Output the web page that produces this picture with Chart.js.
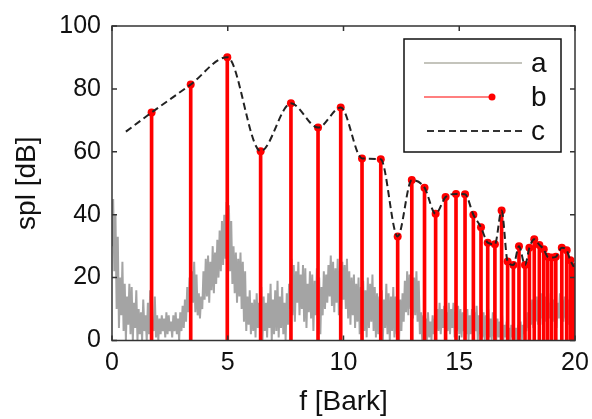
<!DOCTYPE html>
<html>
<head>
<meta charset="utf-8">
<script src="https://cdn.jsdelivr.net/npm/chart.js@4"></script>
<style>
  html, body { margin: 0; padding: 0; background: #fff; }
</style>
</head>
<body>
<canvas id="myChart" width="592" height="419"></canvas>
<script>
const xTicks = [0, 5, 10, 15, 20];
const yTicks = [0, 20, 40, 60, 80, 100];

// a : grey spectrum, upper and lower values every 0.1 Bark (0 .. 20)
const aStep = 0.1;
const aTop = [
  45, 40, 33, 20, 25, 18,
  14, 18, 17, 12, 16,   10, 9, 13, 8, 12,   16, 6, 14, 8, 7,   8, 7, 9, 8, 6,
  8, 9, 7, 9, 11,   13, 17, 20, 22, 25,   21, 15, 14, 22, 26,   27, 25, 30, 28, 32,
  35, 38, 40, 44, 43,   38, 30, 28, 26, 28,   25, 22, 14, 16, 12,   13, 15, 12, 17, 14,
  12, 15, 18, 13, 16,   19, 14, 17, 12, 15,   18, 26, 24, 22, 25,   21, 24, 23, 18, 22,
  21, 19, 23, 20, 17,   22, 21, 24, 27, 25,   23, 26, 22, 25, 24,   26, 22, 20, 21, 18,
  20, 17, 19, 16, 20,   18, 21, 17, 15, 14,   16, 13, 18, 15, 14,   17, 14, 16, 13, 15,
  19, 22, 21, 23, 20,   22, 19, 9, 8, 7,   9, 6, 8, 7, 10,   12, 10, 11, 9, 12,
  10, 12, 9, 11, 10,   9, 11, 10, 8, 10,   9, 11, 8, 10, 9,   8, 10, 7, 9, 8,
  7, 6, 8, 5, 6,   4, 5, 6, 4, 5,   6, 5, 7, 9, 11,   13, 12, 14, 12, 15,
  13, 14, 12, 15, 13,   14, 12, 15, 13, 14,   15, 13, 14, 12, 13
];
const aLow = [
  30, 22, 10, 4, 8, 3,
  0, 5, 2, 0, 4,   0, 2, 0, 3, 0,   2, 0, 3, 1, 0,   2, 3, 1, 2, 3,
  1, 3, 2, 0, 3,   4, 6, 9, 10, 12,   9, 8, 7, 10, 13,   14, 12, 16, 15, 18,
  20, 22, 24, 26, 25,   22, 18, 15, 12, 14,   10, 6, 3, 5, 2,   3, 1, 4, 2, 0,
  3, 1, 4, 0, 2,   3, 1, 4, 2, 0,   5, 10, 8, 6, 12,   8, 10, 6, 4, 9,
  7, 3, 8, 5, 2,   8, 10, 12, 14, 11,   9, 12, 8, 10, 13,   10, 7, 5, 8, 4,
  6, 2, 5, 3, 1,   4, 6, 3, 1, 2,   3, 0, 4, 2, 0,   3, 1, 2, 0, 3,
  6, 9, 8, 10, 7,   8, 6, 2, 0, 1,   0, 1, 0, 2, 3,   3, 2, 4, 1, 3,
  2, 4, 1, 3, 2,   1, 3, 2, 0, 2,   1, 3, 0, 2, 1,   0, 2, 1, 0, 1,
  0, 1, 0, 0, 1,   0, 0, 1, 0, 0,   1, 0, 2, 3, 4,   5, 4, 6, 5, 7,
  5, 6, 4, 7, 5,   6, 4, 7, 5, 6,   7, 5, 6, 4, 5
];

// b : red stems (harmonic peaks)
const bX = [1.71, 3.40, 4.98, 6.42, 7.73, 8.90, 9.88, 10.80, 11.61, 12.34, 12.95, 13.50,
  13.98, 14.41, 14.86, 15.25, 15.61, 15.94, 16.23, 16.54, 16.83, 17.09, 17.34, 17.58,
  17.84, 18.03, 18.24, 18.46, 18.65, 18.82, 18.99, 19.17, 19.43, 19.64, 19.80, 19.95];
const bY = [72.5, 81.4, 90.1, 60.2, 75.4, 67.7, 74.1, 57.9, 57.6, 33.1, 51.0, 48.6,
  40.3, 45.6, 46.6, 46.5, 40.0, 36.0, 31.1, 30.6, 41.3, 25.1, 24.0, 30.0,
  24.0, 29.5, 32.2, 30.4, 29.0, 26.6, 26.4, 26.6, 29.5, 28.7, 25.5, 23.4];

// c : dashed envelope
const cX = [0.6, 1.71, 3.40, 4.98, 6.42, 7.73, 8.90, 9.88, 10.80, 11.61, 12.34, 12.95, 13.50,
  13.98, 14.41, 14.86, 15.25, 15.61, 15.94, 16.23, 16.54, 16.83, 17.09, 17.34, 17.58,
  17.84, 18.03, 18.24, 18.46, 18.65, 18.82, 18.99, 19.17, 19.43, 19.64, 19.80, 19.95];
const cY = [66.4, 72.5, 81.4, 90.1, 60.2, 75.4, 67.7, 74.1, 57.9, 57.6, 33.1, 51.0, 48.6,
  40.3, 45.6, 46.6, 46.5, 40.0, 36.0, 31.1, 30.6, 41.3, 25.1, 24.0, 30.0,
  24.0, 29.5, 32.2, 30.4, 29.0, 26.6, 26.4, 26.6, 29.5, 28.7, 25.5, 23.4];

const legendLabels = ['a', 'b', 'c'];

const FONT = '"Liberation Sans", Arial, Helvetica, sans-serif';
const GREY = '#a4a4a4';
const RED = '#ff0000';

// -- ** build datasets ** -- \\
var aData = [];
for (let i = 0; i < aTop.length; i++) {
  aData.push({ x: i * aStep, y: aLow[i] });
  aData.push({ x: i * aStep + aStep / 2, y: aTop[i] });
}
const bData = bX.map((x, i) => ({ x: x, y: bY[i] }));
const cData = cX.map((x, i) => ({ x: x, y: cY[i] }));

// -- ** box, inward ticks and legend ** -- \\
const framePlugin = {
  id: 'frame',
  afterDraw(chart) {
    const ctx = chart.ctx;
    const ca = chart.chartArea;
    const sx = chart.scales.x;
    const sy = chart.scales.y;
    ctx.save();
    ctx.strokeStyle = '#333';
    ctx.lineWidth = 1.5;
    ctx.strokeRect(ca.left, ca.top, ca.right - ca.left, ca.bottom - ca.top);
    ctx.beginPath();
    xTicks.forEach(v => {
      const px = sx.getPixelForValue(v);
      ctx.moveTo(px, ca.bottom); ctx.lineTo(px, ca.bottom - 5);
      ctx.moveTo(px, ca.top); ctx.lineTo(px, ca.top + 5);
    });
    yTicks.forEach(v => {
      const py = sy.getPixelForValue(v);
      ctx.moveTo(ca.left, py); ctx.lineTo(ca.left + 5, py);
      ctx.moveTo(ca.right, py); ctx.lineTo(ca.right - 5, py);
    });
    ctx.stroke();

    // legend
    const lx = 404, ly = 39, lw = 157, lh = 113;
    ctx.fillStyle = '#fff';
    ctx.fillRect(lx, ly, lw, lh);
    ctx.strokeStyle = '#111';
    ctx.lineWidth = 1.5;
    ctx.strokeRect(lx, ly, lw, lh);
    const rows = [63, 97, 131];
    ctx.setLineDash([]);
    ctx.strokeStyle = '#c4c4bc';
    ctx.lineWidth = 2;
    ctx.beginPath(); ctx.moveTo(424, rows[0]); ctx.lineTo(522, rows[0]); ctx.stroke();
    ctx.strokeStyle = RED;
    ctx.lineWidth = 1.2;
    ctx.beginPath(); ctx.moveTo(424, rows[1]); ctx.lineTo(492, rows[1]); ctx.stroke();
    ctx.fillStyle = RED;
    ctx.beginPath(); ctx.arc(492, rows[1], 3.5, 0, Math.PI * 2); ctx.fill();
    ctx.strokeStyle = '#333';
    ctx.lineWidth = 2;
    ctx.setLineDash([7, 4]);
    ctx.beginPath(); ctx.moveTo(427, rows[2]); ctx.lineTo(522, rows[2]); ctx.stroke();
    ctx.setLineDash([]);
    ctx.fillStyle = '#111';
    ctx.font = '28px ' + FONT;
    ctx.textBaseline = 'middle';
    ctx.textAlign = 'left';
    legendLabels.forEach((t, i) => ctx.fillText(t, 531, rows[i] + 1));
    ctx.restore();
  }
};

const config = {
  type: 'scatter',
  data: {
    datasets: [
      {
        type: 'line', label: 'c', data: cData, order: 1,
        borderColor: '#222', borderWidth: 2, borderDash: [7, 4],
        pointRadius: 0, cubicInterpolationMode: 'monotone', fill: false
      },
      {
        type: 'scatter', label: 'b', data: bData, order: 2,
        backgroundColor: RED, borderColor: RED, pointRadius: 4, borderWidth: 0
      },
      {
        type: 'bar', label: 'b', data: bData, order: 3,
        backgroundColor: RED, barThickness: 3, grouped: false
      },
      {
        type: 'line', label: 'a', data: aData, order: 4,
        borderColor: GREY, borderWidth: 2, pointRadius: 0, fill: false, tension: 0
      }
    ]
  },
  options: {
    responsive: false,
    animation: false,
    events: [],
    layout: { padding: { top: 23, right: 17, left: 0, bottom: 0 } },
    plugins: { legend: { display: false }, tooltip: { enabled: false } },
    scales: {
      x: {
        type: 'linear', min: 0, max: 20, offset: false,
        afterFit: (scale) => {
          scale.height = 78.5;
          scale.paddingLeft = 0;
          scale.paddingRight = 0;
        },
        afterBuildTicks: (scale) => { scale.ticks = xTicks.map(v => ({ value: v })); },
        grid: { display: false, drawTicks: false },
        border: { display: false },
        ticks: { color: '#111', font: { family: FONT, size: 25 }, padding: 8, maxRotation: 0 },
        title: { display: true, text: 'f [Bark]', color: '#111', font: { family: FONT, size: 28 }, padding: { top: 0, bottom: 0 } }
      },
      y: {
        type: 'linear', min: 0, max: 100,
        afterFit: (scale) => { scale.width = 112; },
        afterBuildTicks: (scale) => { scale.ticks = yTicks.map(v => ({ value: v })); },
        grid: { display: false, drawTicks: false },
        border: { display: false },
        ticks: { color: '#111', font: { family: FONT, size: 25 }, padding: 11 },
        title: { display: true, text: 'spl [dB]', color: '#111', font: { family: FONT, size: 28 }, padding: { top: 10, bottom: 0 } }
      }
    }
  },
  plugins: [framePlugin]
};

window.myChart = new Chart(document.getElementById('myChart'), config);
</script>
</body>
</html>
